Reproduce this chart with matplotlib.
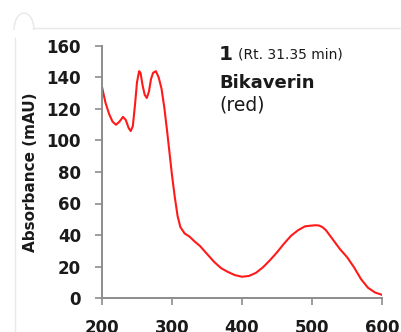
import matplotlib.pyplot as plt
from matplotlib.lines import Line2D
from matplotlib.patches import Arc

# wavelength (nm) and absorbance (mAU)
wavelength = [200, 205, 210, 215, 220, 225, 230, 234, 238, 241, 244, 247, 250, 253, 255,
              258, 261, 264, 267, 270, 273, 277, 281, 285, 289, 293, 297, 300, 304, 308,
              312, 318, 325, 332, 340, 350, 360, 370, 380, 390, 400, 410, 420, 430, 440,
              450, 460, 470, 480, 490, 500, 505, 510, 515, 520, 530, 540, 550, 560, 570,
              580, 590, 600]
absorbance = [134, 124, 117, 112, 110, 112, 115, 113, 108, 106, 109, 122, 137, 144, 143,
              135, 129, 127, 131, 139, 143, 144, 140, 133, 121, 106, 90, 78, 64, 52,
              45, 41, 39, 36, 33, 28, 23, 19, 16.5, 14.5, 13.5, 14, 16, 19.5, 24,
              29, 34.5, 39.5, 43, 45.5, 46, 46.2, 46, 45, 43, 37, 31, 26, 19.5, 12,
              6.5, 3.5, 2]

x_ticks = [200, 300, 400, 500, 600]
y_ticks = [0, 20, 40, 60, 80, 100, 120, 140, 160]

AXIS_GRAY = '#8c8c8c'
TEXT_COLOR = '#1a1a1a'

fig = plt.figure(figsize=(4.01, 3.32), dpi=100)
W, H = 401, 332

# faint card frame behind the chart
frame = '#e8e8e8'
fig.add_artist(Line2D([15 / W, 15 / W], [0, 1 - 38 / H], color=frame, lw=1.0))
fig.add_artist(Line2D([33 / W, 1], [1 - 28 / H, 1 - 28 / H], color=frame, lw=1.0))
fig.add_artist(Arc((24 / W, 1 - 30 / H), 20 / W, 34 / H, theta1=0, theta2=180,
                   color=frame, lw=1.0, transform=fig.transFigure))

ax = fig.add_axes([102 / W, 1 - 298 / H, 280 / W, 252 / H])
ax.plot(wavelength, absorbance, color='#ff1a1a', lw=1.5)

ax.set_xlim(200, 600)
ax.set_ylim(0, 160)
ax.set_xticks(x_ticks)
ax.set_yticks(y_ticks)
ax.tick_params(direction='out', length=5, width=1.2, color=AXIS_GRAY,
               labelsize=12, labelcolor=TEXT_COLOR)
ax.tick_params(axis='y', pad=10)
ax.tick_params(axis='x', pad=10)
for lbl in ax.get_xticklabels() + ax.get_yticklabels():
    lbl.set_fontweight('bold')

for side in ['top', 'right']:
    ax.spines[side].set_visible(False)
for side in ['left', 'bottom']:
    ax.spines[side].set_color(AXIS_GRAY)
    ax.spines[side].set_linewidth(1.4)

ax.set_ylabel('Absorbance (mAU)', fontsize=11, fontweight='bold',
              color=TEXT_COLOR, labelpad=6)

# annotation block
fig.text(219 / W, 1 - 60 / H, '1', fontsize=14.5, fontweight='bold', color=TEXT_COLOR)
fig.text(238 / W, 1 - 59 / H, '(Rt. 31.35 min)', fontsize=10, color=TEXT_COLOR)
fig.text(219 / W, 1 - 88 / H, 'Bikaverin', fontsize=13, fontweight='bold', color=TEXT_COLOR)
fig.text(219 / W, 1 - 111 / H, '(red)', fontsize=13.5, color=TEXT_COLOR)

fig.savefig('out.png', dpi=100)
